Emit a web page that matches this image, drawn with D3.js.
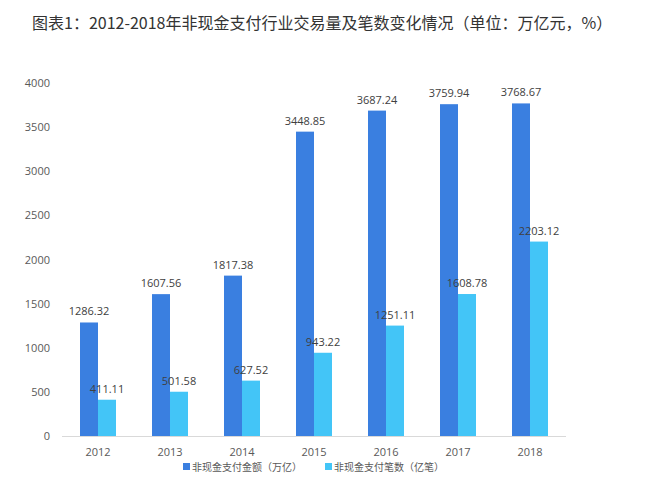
<!DOCTYPE html>
<html><head><meta charset="utf-8">
<script src="https://cdn.jsdelivr.net/npm/d3@7"></script>
<style>body{margin:0;background:#fff;}svg{display:block;}</style>
</head><body>
<svg id="c" width="653" height="497"></svg>
<script>
const categories = ["2012","2013","2014","2015","2016","2017","2018"];
const amount = [1286.32,1607.56,1817.38,3448.85,3687.24,3759.94,3768.67];
const count = [411.11,501.58,627.52,943.22,1251.11,1608.78,2203.12];
const seriesNames = ["非现金支付金额（万亿）","非现金支付笔数（亿笔）"];
const yTicks = [0,500,1000,1500,2000,2500,3000,3500,4000];
const colors = ["#3a7fe0","#43c5f7"];
const title = "图表1：2012-2018年非现金支付行业交易量及笔数变化情况（单位：万亿元，%）";

const svg = d3.select("#c");
const font = "'Noto Sans CJK SC', 'Open Sans', sans-serif";
svg.append("text").attr("x",32).attr("y",29).attr("font-family",font).attr("font-size",16)
  .attr("fill","#333").text(title);

const x = d3.scaleBand().domain(categories).range([62,566]).paddingInner(0).paddingOuter(0);
const y = d3.scaleLinear().domain([0,4000]).range([436,83]);
const barW = 18;

// y axis labels
svg.append("g").selectAll("text").data(yTicks).join("text")
  .attr("x",50).attr("y",d=>y(d)+4).attr("text-anchor","end")
  .attr("font-family","'Open Sans', sans-serif").attr("font-size",11).attr("fill","#595959")
  .text(d=>d);

// baseline
svg.append("line").attr("x1",62).attr("x2",566).attr("y1",436.5).attr("y2",436.5)
  .attr("stroke","#d9d9d9").attr("stroke-width",1);

const series = [amount, count];
series.forEach((vals,si)=>{
  const g = svg.append("g");
  g.selectAll("rect").data(vals).join("rect")
    .attr("x",(d,i)=>x(categories[i])+x.bandwidth()/2 - barW + si*barW)
    .attr("width",barW)
    .attr("y",d=>y(d)).attr("height",d=>y(0)-y(d))
    .attr("fill",colors[si]);
  g.selectAll("text").data(vals).join("text")
    .attr("x",(d,i)=>x(categories[i])+x.bandwidth()/2 - barW/2 + si*barW)
    .attr("y",d=>y(d)-7)
    .attr("text-anchor","middle")
    .attr("font-family","'Open Sans', sans-serif").attr("font-size",11).attr("fill","#404040")
    .text(d=>d.toFixed(2));
});

// x labels
svg.append("g").selectAll("text").data(categories).join("text")
  .attr("x",d=>x(d)+x.bandwidth()/2).attr("y",456).attr("text-anchor","middle")
  .attr("font-family","'Open Sans', sans-serif").attr("font-size",11).attr("fill","#595959")
  .text(d=>d);

// legend
const legX = [183,325];
seriesNames.forEach((n,i)=>{
  svg.append("rect").attr("x",legX[i]).attr("y",463).attr("width",7).attr("height",7).attr("fill",colors[i]);
  svg.append("text").attr("x",legX[i]+9).attr("y",471)
    .attr("font-family",font).attr("font-size",10).attr("fill","#595959").text(n);
});
</script>
</body></html>
